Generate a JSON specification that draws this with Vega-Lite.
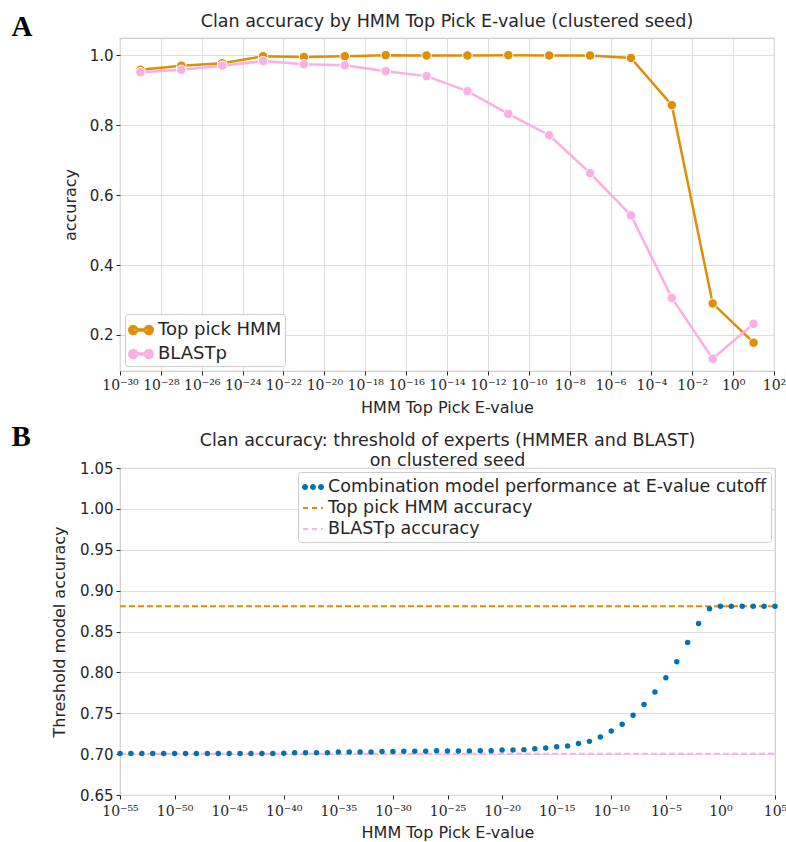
{
  "$schema": "https://vega.github.io/schema/vega-lite/v6.json",
  "background": "white",
  "padding": {"left": 10, "top": 11, "right": 2, "bottom": 2},
  "datasets": {
    "top": [
      {"evalue": 1e-29, "method": "Top pick HMM", "accuracy": 0.958},
      {"evalue": 1e-27, "method": "Top pick HMM", "accuracy": 0.970},
      {"evalue": 1e-25, "method": "Top pick HMM", "accuracy": 0.977},
      {"evalue": 1e-23, "method": "Top pick HMM", "accuracy": 0.997},
      {"evalue": 1e-21, "method": "Top pick HMM", "accuracy": 0.995},
      {"evalue": 1e-19, "method": "Top pick HMM", "accuracy": 0.997},
      {"evalue": 1e-17, "method": "Top pick HMM", "accuracy": 1.0},
      {"evalue": 1e-15, "method": "Top pick HMM", "accuracy": 0.999},
      {"evalue": 1e-13, "method": "Top pick HMM", "accuracy": 0.999},
      {"evalue": 1e-11, "method": "Top pick HMM", "accuracy": 1.0},
      {"evalue": 1e-9, "method": "Top pick HMM", "accuracy": 0.999},
      {"evalue": 1e-7, "method": "Top pick HMM", "accuracy": 0.999},
      {"evalue": 1e-5, "method": "Top pick HMM", "accuracy": 0.992},
      {"evalue": 1e-3, "method": "Top pick HMM", "accuracy": 0.857},
      {"evalue": 1e-1, "method": "Top pick HMM", "accuracy": 0.290},
      {"evalue": 10, "method": "Top pick HMM", "accuracy": 0.178},
      {"evalue": 1e-29, "method": "BLASTp", "accuracy": 0.951},
      {"evalue": 1e-27, "method": "BLASTp", "accuracy": 0.958},
      {"evalue": 1e-25, "method": "BLASTp", "accuracy": 0.970},
      {"evalue": 1e-23, "method": "BLASTp", "accuracy": 0.983},
      {"evalue": 1e-21, "method": "BLASTp", "accuracy": 0.974},
      {"evalue": 1e-19, "method": "BLASTp", "accuracy": 0.971},
      {"evalue": 1e-17, "method": "BLASTp", "accuracy": 0.954},
      {"evalue": 1e-15, "method": "BLASTp", "accuracy": 0.940},
      {"evalue": 1e-13, "method": "BLASTp", "accuracy": 0.897},
      {"evalue": 1e-11, "method": "BLASTp", "accuracy": 0.832},
      {"evalue": 1e-9, "method": "BLASTp", "accuracy": 0.771},
      {"evalue": 1e-7, "method": "BLASTp", "accuracy": 0.663},
      {"evalue": 1e-5, "method": "BLASTp", "accuracy": 0.542},
      {"evalue": 1e-3, "method": "BLASTp", "accuracy": 0.306},
      {"evalue": 1e-1, "method": "BLASTp", "accuracy": 0.132},
      {"evalue": 10, "method": "BLASTp", "accuracy": 0.232}
    ],
    "combo": [
      {"evalue": 1e-55, "accuracy": 0.7008}, {"evalue": 1e-54, "accuracy": 0.7008}, {"evalue": 1e-53, "accuracy": 0.7008},
      {"evalue": 1e-52, "accuracy": 0.7008}, {"evalue": 1e-51, "accuracy": 0.7008}, {"evalue": 1e-50, "accuracy": 0.7008},
      {"evalue": 1e-49, "accuracy": 0.7008}, {"evalue": 1e-48, "accuracy": 0.7008}, {"evalue": 1e-47, "accuracy": 0.7008},
      {"evalue": 1e-46, "accuracy": 0.7008}, {"evalue": 1e-45, "accuracy": 0.7008}, {"evalue": 1e-44, "accuracy": 0.7008},
      {"evalue": 1e-43, "accuracy": 0.7008}, {"evalue": 1e-42, "accuracy": 0.7008}, {"evalue": 1e-41, "accuracy": 0.7009},
      {"evalue": 1e-40, "accuracy": 0.7010}, {"evalue": 1e-39, "accuracy": 0.7016}, {"evalue": 1e-38, "accuracy": 0.7016},
      {"evalue": 1e-37, "accuracy": 0.7017}, {"evalue": 1e-36, "accuracy": 0.7018}, {"evalue": 1e-35, "accuracy": 0.7025},
      {"evalue": 1e-34, "accuracy": 0.7025}, {"evalue": 1e-33, "accuracy": 0.7026}, {"evalue": 1e-32, "accuracy": 0.7027},
      {"evalue": 1e-31, "accuracy": 0.7033}, {"evalue": 1e-30, "accuracy": 0.7033}, {"evalue": 1e-29, "accuracy": 0.7034},
      {"evalue": 1e-28, "accuracy": 0.7034}, {"evalue": 1e-27, "accuracy": 0.7035}, {"evalue": 1e-26, "accuracy": 0.7040},
      {"evalue": 1e-25, "accuracy": 0.7038}, {"evalue": 1e-24, "accuracy": 0.7038}, {"evalue": 1e-23, "accuracy": 0.7039},
      {"evalue": 1e-22, "accuracy": 0.7040}, {"evalue": 1e-21, "accuracy": 0.7042}, {"evalue": 1e-20, "accuracy": 0.7050},
      {"evalue": 1e-19, "accuracy": 0.7050}, {"evalue": 1e-18, "accuracy": 0.7055}, {"evalue": 1e-17, "accuracy": 0.7066},
      {"evalue": 1e-16, "accuracy": 0.7074}, {"evalue": 1e-15, "accuracy": 0.7090}, {"evalue": 1e-14, "accuracy": 0.7100},
      {"evalue": 1e-13, "accuracy": 0.7130}, {"evalue": 1e-12, "accuracy": 0.7156}, {"evalue": 1e-11, "accuracy": 0.7210},
      {"evalue": 1e-10, "accuracy": 0.7283}, {"evalue": 1e-9, "accuracy": 0.7365}, {"evalue": 1e-8, "accuracy": 0.7475},
      {"evalue": 1e-7, "accuracy": 0.7607}, {"evalue": 1e-6, "accuracy": 0.7760}, {"evalue": 1e-5, "accuracy": 0.7934},
      {"evalue": 1e-4, "accuracy": 0.8130}, {"evalue": 1e-3, "accuracy": 0.8365}, {"evalue": 1e-2, "accuracy": 0.8597},
      {"evalue": 1e-1, "accuracy": 0.8779}, {"evalue": 1, "accuracy": 0.8810}, {"evalue": 10, "accuracy": 0.8810},
      {"evalue": 100, "accuracy": 0.8810}, {"evalue": 1000, "accuracy": 0.8810}, {"evalue": 10000, "accuracy": 0.8810},
      {"evalue": 100000, "accuracy": 0.8810}
    ],
    "baselines": [
      {"series": "Top pick HMM accuracy", "accuracy": 0.881},
      {"series": "BLASTp accuracy", "accuracy": 0.7005}
    ]
  },
  "spacing": 5,
  "resolve": {"scale": {"color": "independent"}, "legend": {"color": "independent"}},
  "vconcat": [
    {
      "width": 654,
      "height": 333,
      "title": {"text": "Clan accuracy by HMM Top Pick E-value (clustered seed)", "offset": -18},
      "encoding": {
        "y": {
          "field": "accuracy", "type": "quantitative",
          "scale": {"domain": [0.097, 1.049], "nice": false, "zero": false},
          "axis": {"title": "accuracy", "values": [0.2, 0.4, 0.6, 0.8, 1.0], "format": ".1f", "titlePadding": 11}
        },
        "color": {
          "field": "method", "type": "nominal",
          "scale": {"domain": ["Top pick HMM", "BLASTp"], "range": ["#de8f05", "#fbafe4"]},
          "legend": {
            "title": null, "orient": "bottom-left", "offset": 5, "labelFontSize": 18, "padding": 3,
            "rowPadding": 2,
            "symbolType": "M-1,0a0.36,0.36 0 1,0 0.72,0a0.36,0.36 0 1,0 -0.72,0ZM0.28,0a0.36,0.36 0 1,0 0.72,0a0.36,0.36 0 1,0 -0.72,0ZM-0.64,-0.09L0.64,-0.09L0.64,0.09L-0.64,0.09Z",
            "symbolSize": 600,
            "encode": {
              "symbols": {"update": {
                "fill": {"signal": "datum.value == 'BLASTp' ? '#fbafe4' : '#de8f05'"},
                "stroke": {"value": "transparent"},
                "shape": {"value": "M-1,0a0.36,0.36 0 1,0 0.72,0a0.36,0.36 0 1,0 -0.72,0ZM0.28,0a0.36,0.36 0 1,0 0.72,0a0.36,0.36 0 1,0 -0.72,0ZM-0.64,-0.09L0.64,-0.09L0.64,0.09L-0.64,0.09Z"},
                "size": {"value": 600}
              }}
            }
          }
        }
      },
      "layer": [
        {
          "data": {"name": "top"},
          "transform": [{"filter": "datum.method == 'Top pick HMM'"}],
          "mark": {"type": "line", "strokeWidth": 2.5, "point": {"filled": true, "size": 90, "stroke": "white", "strokeWidth": 1}},
          "encoding": {
            "x": {
              "field": "evalue", "type": "quantitative",
              "scale": {"type": "log", "domain": [1e-30, 100], "nice": false},
              "axis": {
                "orient": "bottom",
                "title": "HMM Top Pick E-value", "titlePadding": 7,
                "values": [1e-30, 1e-28, 1e-26, 1e-24, 1e-22, 1e-20, 1e-18, 1e-16, 1e-14, 1e-12, 1e-10, 1e-8, 1e-6, 1e-4, 1e-2, 1, 100],
                "labelExpr": "'10' + (round(log(datum.value)/LN10) < 0 ? '⁻' : '') + (abs(round(log(datum.value)/LN10)) >= 10 ? ['⁰','¹','²','³','⁴','⁵','⁶','⁷','⁸','⁹'][floor(abs(round(log(datum.value)/LN10))/10)] : '') + ['⁰','¹','²','³','⁴','⁵','⁶','⁷','⁸','⁹'][abs(round(log(datum.value)/LN10)) % 10]",
                "labelFont": "DejaVu Serif", "labelFontSize": 14, "labelOverlap": false, "labelFlush": false
              }
            }
          }
        },
        {
          "data": {"name": "top"},
          "transform": [{"filter": "datum.method == 'BLASTp'"}],
          "mark": {"type": "line", "strokeWidth": 2.5, "point": {"filled": true, "size": 90, "stroke": "white", "strokeWidth": 1}},
          "encoding": {
            "x": {
              "field": "evalue", "type": "quantitative",
              "scale": {"type": "log", "domain": [1e-30, 100], "nice": false},
              "axis": {
                "orient": "top", "title": "A", "labels": false, "ticks": false, "domain": false, "grid": false,
                "titleX": -109, "titleY": -3, "titleAngle": 0, "titleAlign": "left", "titleBaseline": "alphabetic",
                "titleFont": "Liberation Serif", "titleFontSize": 29, "titleFontWeight": "bold", "titleColor": "black"
              }
            }
          }
        }
      ],
      "resolve": {"scale": {"x": "independent"}, "axis": {"x": "independent"}}
    },
    {
      "width": 655,
      "height": 327,
      "title": {"text": ["Clan accuracy: threshold of experts (HMMER and BLAST)", "on clustered seed"], "offset": -47, "lineHeight": 20},
      "encoding": {
        "y": {
          "field": "accuracy", "type": "quantitative",
          "scale": {"domain": [0.65, 1.05], "nice": false, "zero": false},
          "axis": {"title": "Threshold model accuracy", "values": [0.65, 0.7, 0.75, 0.8, 0.85, 0.9, 0.95, 1.0, 1.05], "format": ".2f", "titlePadding": 12}
        },
        "color": {
          "field": "series", "type": "nominal",
          "scale": {
            "domain": ["Combination model performance at E-value cutoff", "Top pick HMM accuracy", "BLASTp accuracy"],
            "range": ["#0173b2", "#de8f05", "#fbafe4"]
          },
          "legend": {
            "title": null, "orient": "top-right", "offset": 4, "labelLimit": 600, "rowPadding": 1, "labelFontSize": 17.5, "padding": 4,
            "symbolSize": 500,
            "encode": {
              "symbols": {"update": {
                "shape": {"signal": "datum.value == 'Combination model performance at E-value cutoff' ? 'M-1,0a0.2,0.2 0 1,0 0.4,0a0.2,0.2 0 1,0 -0.4,0ZM-0.2,0a0.2,0.2 0 1,0 0.4,0a0.2,0.2 0 1,0 -0.4,0ZM0.6,0a0.2,0.2 0 1,0 0.4,0a0.2,0.2 0 1,0 -0.4,0Z' : 'M-1,0L1,0'"},
                "fill": {"signal": "datum.value == 'Combination model performance at E-value cutoff' ? '#0173b2' : 'transparent'"},
                "stroke": {"signal": "datum.value == 'Combination model performance at E-value cutoff' ? 'transparent' : (datum.value == 'Top pick HMM accuracy' ? '#de8f05' : '#fbafe4')"},
                "strokeDash": {"signal": "datum.value == 'Combination model performance at E-value cutoff' ? [1, 0] : [5, 4]"},
                "strokeWidth": {"value": 2},
                "size": {"value": 400},
                "opacity": {"value": 1}
              }}
            }
          }
        }
      },
      "layer": [
        {
          "data": {"name": "baselines"},
          "mark": {"type": "rule", "strokeDash": [6, 3], "strokeWidth": 2},
          "encoding": {
            "x": {
              "datum": 1e-55, "type": "quantitative",
              "scale": {"type": "log", "domain": [1e-55, 100000], "nice": false},
              "axis": {
                "orient": "top", "title": "B", "labels": false, "ticks": false, "domain": false, "grid": false,
                "titleX": -109, "titleY": -23, "titleAngle": 0, "titleAlign": "left", "titleBaseline": "alphabetic",
                "titleFont": "Liberation Serif", "titleFontSize": 29, "titleFontWeight": "bold", "titleColor": "black"
              }
            },
            "x2": {"datum": 100000}
          }
        },
        {
          "data": {"name": "combo"},
          "transform": [{"calculate": "'Combination model performance at E-value cutoff'", "as": "series"}],
          "mark": {"type": "point", "filled": true, "size": 30, "opacity": 1},
          "encoding": {
            "x": {
              "field": "evalue", "type": "quantitative",
              "scale": {"type": "log", "domain": [1e-55, 100000], "nice": false},
              "axis": {
                "orient": "bottom",
                "title": "HMM Top Pick E-value", "titlePadding": 6, "labelPadding": 5,
                "values": [1e-55, 1e-50, 1e-45, 1e-40, 1e-35, 1e-30, 1e-25, 1e-20, 1e-15, 1e-10, 1e-5, 1, 100000],
                "labelExpr": "'10' + (round(log(datum.value)/LN10) < 0 ? '⁻' : '') + (abs(round(log(datum.value)/LN10)) >= 10 ? ['⁰','¹','²','³','⁴','⁵','⁶','⁷','⁸','⁹'][floor(abs(round(log(datum.value)/LN10))/10)] : '') + ['⁰','¹','²','³','⁴','⁵','⁶','⁷','⁸','⁹'][abs(round(log(datum.value)/LN10)) % 10]",
                "labelFont": "DejaVu Serif", "labelFontSize": 14, "labelOverlap": false, "labelFlush": false
              }
            }
          }
        }
      ],
      "resolve": {"scale": {"x": "independent"}, "axis": {"x": "independent"}}
    }
  ],
  "config": {
    "font": "DejaVu Sans",
    "view": {"stroke": "#cccccc", "strokeWidth": 1.2},
    "title": {"font": "DejaVu Sans", "fontSize": 17.5, "fontWeight": "normal", "color": "#262626"},
    "axis": {
      "gridColor": "#dddddd", "gridWidth": 1, "domain": false,
      "labelFont": "DejaVu Sans", "labelFontSize": 15, "labelColor": "#262626",
      "titleFont": "DejaVu Sans", "titleFontSize": 16, "titleFontWeight": "normal", "titleColor": "#262626",
      "tickColor": "#262626", "tickSize": 4, "labelPadding": 3
    },
    "legend": {
      "labelFont": "DejaVu Sans", "labelFontSize": 16, "labelColor": "#262626",
      "strokeColor": "#cccccc", "fillColor": "white", "padding": 6, "cornerRadius": 3, "rowPadding": 4
    }
  }
}
